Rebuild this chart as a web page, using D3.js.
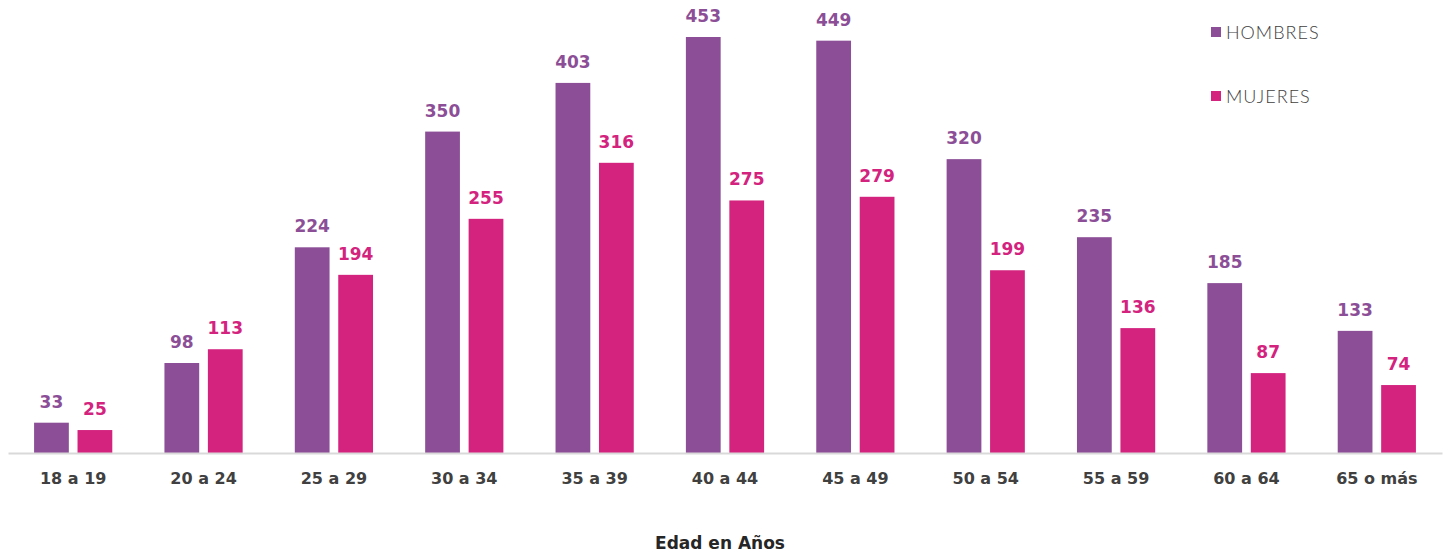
<!DOCTYPE html>
<html><head><meta charset="utf-8">
<script src="https://cdn.jsdelivr.net/npm/d3@7"></script>
<style>body{margin:0;background:#fff}svg{display:block}text{font-family:"DejaVu Sans",sans-serif}</style>
</head><body><svg id="c" width="1449" height="556"></svg>
<script>
const categories = ["18 a 19","20 a 24","25 a 29","30 a 34","35 a 39","40 a 44","45 a 49","50 a 54","55 a 59","60 a 64","65 o más"];
const hombres = [33,98,224,350,403,453,449,320,235,185,133];
const mujeres = [25,113,194,255,316,275,279,199,136,87,74];
const seriesNames = ["HOMBRES","MUJERES"];
const colors = ["#8C4F97","#D3237F"];
const axisTitle = "Edad en Años";

const svg = d3.select("#c");
const baseY = 453, left = 8, right = 1442;
const x = d3.scaleBand().domain(categories).range([left, right]).paddingInner(0).paddingOuter(0);
const xs = d3.scaleBand().domain(seriesNames).range([0, x.bandwidth()]).paddingInner(0.2).paddingOuter(0.6);
const y = d3.scaleLinear().domain([0, 453]).range([baseY, 37]);

const data = [hombres, mujeres];
data.forEach((vals, si) => {
  const g = svg.append("g");
  g.selectAll("rect").data(vals).join("rect")
    .attr("x", (d,i) => x(categories[i]) + xs(seriesNames[si]))
    .attr("y", d => y(d))
    .attr("width", xs.bandwidth())
    .attr("height", d => baseY - y(d))
    .attr("fill", colors[si]);
  g.selectAll("text").data(vals).join("text")
    .attr("x", (d,i) => x(categories[i]) + xs(seriesNames[si]) + xs.bandwidth()/2)
    .attr("y", d => y(d) - 15)
    .attr("text-anchor", "middle")
    .attr("font-size", 17).attr("font-weight", 700)
    .attr("fill", colors[si]).text(d => d);
});

// axis
const ax = svg.append("g").attr("transform", `translate(0,${baseY})`)
  .call(d3.axisBottom(x).tickSize(0).tickPadding(20));
ax.select(".domain").attr("stroke", "#d9d9d9").attr("stroke-width", 2);
ax.selectAll("text").attr("font-size", 16).attr("font-weight", 700).attr("fill", "#404040")
  .style("font-family", "'DejaVu Sans', sans-serif");

svg.append("text").attr("x", 720).attr("y", 549).attr("text-anchor", "middle")
  .attr("font-size", 17).attr("font-weight", 700).attr("fill", "#262626").text(axisTitle);

// legend
const leg = svg.append("g");
seriesNames.forEach((n, i) => {
  const yy = 32 + i * 64;
  leg.append("rect").attr("x", 1211).attr("y", yy - 5).attr("width", 10).attr("height", 10).attr("fill", colors[i]);
  leg.append("text").attr("x", 1226).attr("y", yy + 6.5).attr("font-size", 18)
    .attr("font-weight", 300).attr("letter-spacing", 1).attr("fill", "#404040")
    .style("font-family", "Lato, sans-serif").text(n);
});
</script></body></html>
